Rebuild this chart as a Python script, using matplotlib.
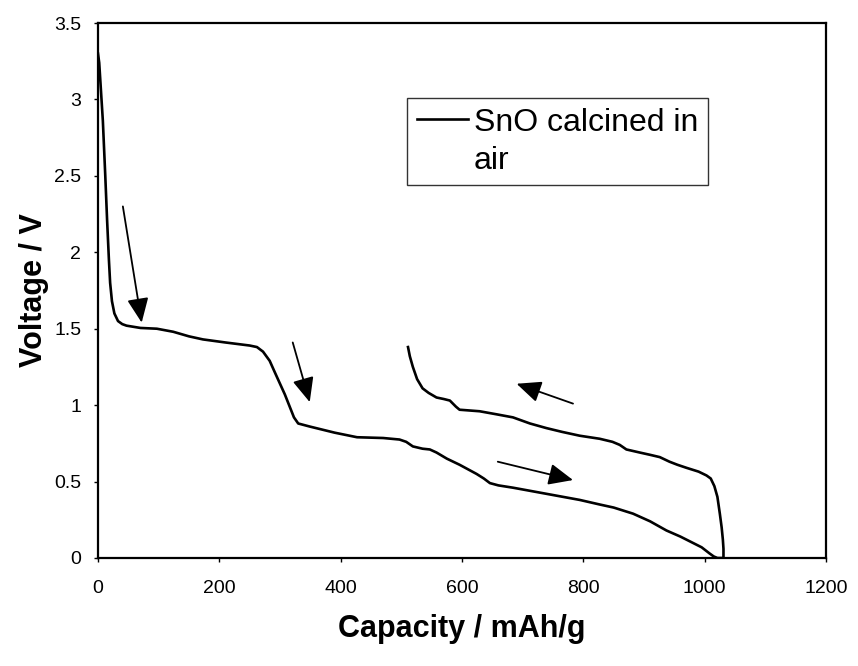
import matplotlib
matplotlib.use("Agg")
import matplotlib.pyplot as plt
from matplotlib.ticker import FuncFormatter

plt.rcParams["font.family"] = ["Liberation Sans", "DejaVu Sans"]

# discharge branch (capacity mAh/g, voltage V)
dis_cap = [0, 2, 5, 8, 12, 15, 18, 20, 23, 27, 33, 40, 47, 70, 97, 124, 150, 173,
           210, 250, 262, 272, 283, 292, 300, 308, 316, 323, 330, 349, 390, 427,
           470, 497, 508, 519, 535, 547, 558, 575, 596, 610, 624, 636, 646, 660,
           684, 739, 794, 827, 850, 882, 910, 937, 960, 980, 995, 1008, 1015, 1021]
dis_v = [3.30, 3.24, 3.05, 2.86, 2.50, 2.21, 1.95, 1.80, 1.68, 1.60, 1.55, 1.53,
         1.52, 1.505, 1.50, 1.48, 1.45, 1.43, 1.41, 1.39, 1.38, 1.35, 1.29, 1.21,
         1.14, 1.07, 0.99, 0.92, 0.88, 0.86, 0.82, 0.79, 0.785, 0.775, 0.76, 0.73,
         0.715, 0.71, 0.69, 0.65, 0.61, 0.58, 0.55, 0.52, 0.49, 0.475, 0.46, 0.42,
         0.38, 0.35, 0.33, 0.29, 0.24, 0.18, 0.14, 0.10, 0.07, 0.03, 0.01, 0.0]

# charge branch
chg_cap = [1031, 1031, 1030, 1028, 1025, 1021, 1016, 1010, 1003, 990, 970, 955,
           942, 926, 910, 893, 871, 860, 848, 827, 794, 765, 739, 712, 684, 657,
           629, 596, 590, 580, 570, 558, 545, 535, 526, 519, 514, 511]
chg_v = [0.0, 0.06, 0.12, 0.20, 0.29, 0.40, 0.47, 0.52, 0.54, 0.565, 0.59, 0.61,
         0.63, 0.66, 0.675, 0.69, 0.71, 0.74, 0.76, 0.78, 0.80, 0.825, 0.85, 0.88,
         0.92, 0.94, 0.96, 0.97, 0.99, 1.03, 1.04, 1.05, 1.08, 1.11, 1.17, 1.25,
         1.32, 1.38]

# arrows: (tail_x, tail_y, head_x, head_y)
arrows = [
    (41, 2.30, 72, 1.54),
    (321, 1.41, 349, 1.02),
    (783, 1.01, 690, 1.14),
    (659, 0.63, 783, 0.51),
]

label_lines = ["SnO calcined in", "air"]

fig = plt.figure(figsize=(8.58, 6.66), dpi=100)
ax = fig.add_axes([98 / 858, 1 - 558 / 666, 728 / 858, 535 / 666])

curve, = ax.plot(dis_cap + chg_cap, dis_v + chg_v, color="black", lw=1.9)
# second legend row holds the wrapped part of the label
blank, = ax.plot([], [], color="none")

for x0, y0, x1, y1 in arrows:
    ax.annotate("", xy=(x1, y1), xytext=(x0, y0),
                arrowprops=dict(arrowstyle="-|>,head_length=0.75,head_width=0.33",
                                mutation_scale=20, color="black", lw=1.3,
                                shrinkA=0, shrinkB=0))

ax.set_xlim(0, 1200)
ax.set_ylim(0, 3.5)
ax.set_xticks(range(0, 1201, 200))
ax.set_yticks([0, 0.5, 1, 1.5, 2, 2.5, 3, 3.5])
ax.yaxis.set_major_formatter(FuncFormatter(lambda v, p: "%g" % v))
ax.tick_params(axis="x", direction="out", length=3, width=1, pad=13, labelsize=14)
ax.tick_params(axis="y", direction="out", length=3, width=1, pad=9, labelsize=14)
for s in ax.spines.values():
    s.set_linewidth(1.6)

ax.set_xlabel("Capacity / mAh/g", fontsize=22, fontweight="bold", labelpad=12)
ax.set_ylabel("Voltage / V", fontsize=22, fontweight="bold", labelpad=4)

leg = ax.legend([curve, blank], label_lines, loc="upper left",
                bbox_to_anchor=(0.4245, 0.8598), fontsize=23,
                frameon=True, fancybox=False, handlelength=1.6, handletextpad=0.2,
                borderpad=0.3, borderaxespad=0, labelspacing=0.25)
leg.get_frame().set_edgecolor("black")
leg.get_frame().set_linewidth(1.0)

fig.savefig("out.png", dpi=100)
